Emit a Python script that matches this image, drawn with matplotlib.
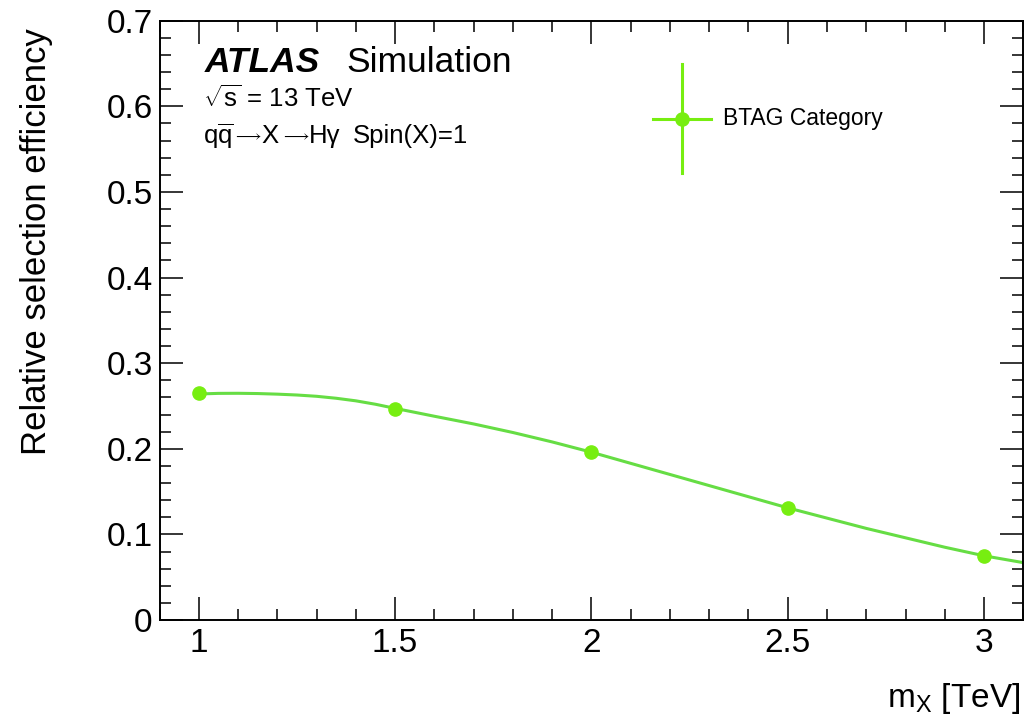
import matplotlib
matplotlib.use("Agg")
import matplotlib.pyplot as plt
from matplotlib.lines import Line2D
import numpy as np

plt.rcParams['font.family'] = ['Liberation Sans', 'DejaVu Sans']
plt.rcParams['mathtext.fontset'] = 'custom'
plt.rcParams['mathtext.rm'] = 'Liberation Sans'
plt.rcParams['mathtext.it'] = 'Liberation Sans:italic'
plt.rcParams['mathtext.bf'] = 'Liberation Sans:bold'

# ---- data ----
mass_points = [1.0, 1.5, 2.0, 2.5, 3.0]
efficiency = [0.265, 0.246, 0.196, 0.131, 0.075]

fit_x = [1.0, 1.05, 1.1, 1.15, 1.2, 1.25, 1.3, 1.35, 1.4, 1.45, 1.5, 1.6, 1.7, 1.8, 1.9, 2.0,
         2.1, 2.2, 2.3, 2.4, 2.5, 2.6, 2.7, 2.8, 2.9, 3.0, 3.1]
fit_y = [0.2640, 0.2647, 0.2648, 0.2645, 0.2638, 0.2628, 0.2613, 0.2590, 0.2560, 0.2520,
         0.2472, 0.2380, 0.2290, 0.2190, 0.2080, 0.1960, 0.1830, 0.1700, 0.1570, 0.1440,
         0.1310, 0.1190, 0.1070, 0.0960, 0.0850, 0.0750, 0.0670]

x_ticks = [1.0, 1.5, 2.0, 2.5, 3.0]
x_ticklabels = ["1", "1.5", "2", "2.5", "3"]
y_ticks = [0.0, 0.1, 0.2, 0.3, 0.4, 0.5, 0.6, 0.7]
y_ticklabels = ["0", "0.1", "0.2", "0.3", "0.4", "0.5", "0.6", "0.7"]

series_label = "BTAG Category"
marker_color = "#77ee11"
line_color = "#66dd44"

W, H = 1033, 720
fig = plt.figure(figsize=(W / 100, H / 100), dpi=100)
ax = fig.add_axes([159.5 / W, 1 - 620 / H, (1023.3 - 159.5) / W, (620 - 20.7) / H])

ax.plot(fit_x, fit_y, color=line_color, lw=2.2, zorder=2, solid_capstyle='butt')
ax.plot(mass_points, efficiency, 'o', color=marker_color, ms=9.5, mec=marker_color, zorder=3)

ax.set_xlim(0.9, 3.1)
ax.set_ylim(0, 0.7)
ax.set_xticks(x_ticks)
ax.set_xticklabels(x_ticklabels)
ax.set_yticks(y_ticks)
ax.set_yticklabels(y_ticklabels)
ax.xaxis.set_minor_locator(matplotlib.ticker.MultipleLocator(0.1))
ax.yaxis.set_minor_locator(matplotlib.ticker.MultipleLocator(0.02))
ax.tick_params(which='both', direction='in', top=True, right=True, width=1.1, labelsize=24)
ax.tick_params(which='major', length=16.5)
ax.tick_params(which='minor', length=8)
ax.tick_params(axis='x', which='major', pad=6)
ax.tick_params(axis='y', which='major', pad=5)
for s in ax.spines.values():
    s.set_linewidth(1.4)

# axis labels (ROOT style: at the ends)
fig.text(1020 / W, 1 - 707 / H, r'm$_{\mathrm{X}}$ [TeV]', ha='right', va='baseline', fontsize=24)
fig.text(37 / W, 1 - 28 / H, 'Relative selection efficiency', rotation=90,
         ha='center', va='top', fontsize=25)

# ATLAS labels
fig.text(205 / W, 1 - 71.7 / H, 'ATLAS', fontsize=25.5, fontweight='bold', fontstyle='italic',
         va='baseline', ha='left')
fig.text(346.7 / W, 1 - 71.7 / H, 'Simulation', fontsize=25.5, va='baseline', ha='left')
fig.text(202.7 / W, 1 - 106.7 / H, r'$\sqrt{\mathrm{s}}$ = 13 TeV', fontsize=18.5,
         va='baseline', ha='left')

# process line, laid out piece by piece (ROOT-style long arrows)
base = 1 - 143.3 / H
fig.text(202.7 / W, base, r'q$\overline{\mathrm{q}}$', fontsize=18.5, va='baseline', ha='left')
fig.text(233.0 / W, base + 3 / H, r'$\longrightarrow$', fontsize=11.6, va='baseline', ha='left')
fig.text(261.5 / W, base, 'X', fontsize=18.5, va='baseline', ha='left')
fig.text(281.0 / W, base + 3 / H, r'$\longrightarrow$', fontsize=11.6, va='baseline', ha='left')
fig.text(309.0 / W, base, 'H\u03b3', fontsize=18.5, va='baseline', ha='left')
fig.text(353.0 / W, base, 'Spin(X)=1', fontsize=18.5, va='baseline', ha='left')

# legend key (errorbar-style marker)
cx, cy = 681.7, 119
fig.add_artist(Line2D([652.7 / W, 710.7 / W], [1 - cy / H, 1 - cy / H], color=marker_color, lw=2.2))
fig.add_artist(Line2D([cx / W, cx / W], [1 - 64 / H, 1 - 173.3 / H], color=marker_color, lw=2.2))
fig.add_artist(Line2D([cx / W], [1 - cy / H], marker='o', color=marker_color, ms=9.5, lw=0))
fig.text(723.3 / W, 1 - 125 / H, series_label, fontsize=16.5, va='baseline', ha='left')

fig.savefig('out.png', dpi=100, facecolor='white')
